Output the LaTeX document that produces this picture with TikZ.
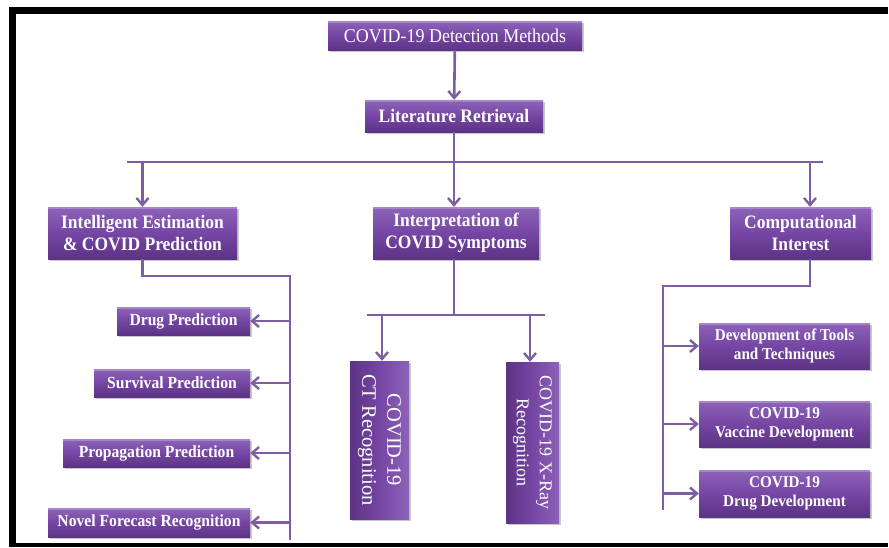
\documentclass[tikz,border=0pt]{standalone}
\usepackage{fontspec}
\setmainfont{Liberation Serif}[FakeStretch=0.92]
\newfontfamily\uprfont{Liberation Serif}
\usetikzlibrary{arrows.meta,shadows}

\definecolor{boxtop}{HTML}{8D63B8}
\definecolor{boxmid}{HTML}{7546A3}
\definecolor{boxbot}{HTML}{5C3385}
\definecolor{boxhi}{HTML}{A586CB}
\definecolor{linkcol}{HTML}{7F5DA3}

\tikzset{
  pbox/.style={rectangle, inner sep=0pt, text=white, align=center,
    top color=boxtop, bottom color=boxbot, middle color=boxmid,
    drop shadow={shadow xshift=2pt, shadow yshift=-2pt, opacity=0.3, fill=black!70},
    path picture={\fill[boxhi] (path picture bounding box.north west)
      rectangle ([yshift=-2pt]path picture bounding box.north east);}},
  vbox/.style={rectangle, inner sep=0pt, text=white, align=center,
    left color=boxbot, right color=boxtop, middle color=boxmid,
    drop shadow={shadow xshift=2pt, shadow yshift=-2pt, opacity=0.3, fill=black!70}},
  link/.style={draw=linkcol, line width=2.6pt},
  arrowlink/.style={link, -{Straight Barb[length=7pt,width=12pt,line width=2.4pt]}},
  headfont/.style={font=\fontsize{19.5}{22}\selectfont},
  boldfont/.style={font=\fontsize{19}{22}\selectfont\bfseries},
  smallbold/.style={font=\fontsize{17}{19}\selectfont\bfseries},
  rightbold/.style={font=\fontsize{16.5}{19}\selectfont\bfseries},
}

\begin{document}
\begin{tikzpicture}[x=1pt,y=-1pt]
\fill[white] (0,0) rectangle (889,547);
\useasboundingbox (0,0) rectangle (889,547);
% outer frame: bands along the top, left and bottom
\fill[black] (9,7) rectangle (887.5,14);
\fill[black] (9,7) rectangle (16,547);
\fill[black] (9,543) rectangle (887.5,547);

% top levels
\node[pbox, headfont, minimum width=254pt, minimum height=29pt] (top) at (455,35.5) {COVID-19 Detection Methods};
\node[pbox, boldfont, minimum width=178pt, minimum height=32pt] (lit) at (454,116) {Literature Retrieval};

% second level
\node[pbox, boldfont, minimum width=189pt, minimum height=52pt] (intel) at (142.5,233) {Intelligent Estimation\\\& COVID Prediction};
\node[pbox, boldfont, minimum width=166pt, minimum height=52pt] (interp) at (456,233) {Interpretation of\\COVID Symptoms};
\node[pbox, boldfont, minimum width=141pt, minimum height=52pt] (comp) at (800.5,233) {Computational\\Interest};

% prediction branch
\node[pbox, smallbold, minimum width=133pt, minimum height=28pt] (drug) at (183.5,321) {Drug Prediction};
\node[pbox, smallbold, minimum width=156pt, minimum height=28pt] (surv) at (172,383) {Survival Prediction};
\node[pbox, smallbold, minimum width=187pt, minimum height=28pt] (prop) at (156.5,453) {Propagation Prediction};
\node[pbox, smallbold, minimum width=202pt, minimum height=29pt] (novel) at (149,522.5) {Novel Forecast Recognition};

% symptom branch (vertical boxes)
\node[vbox, rotate=-90, minimum width=158pt, minimum height=59pt,
  font=\uprfont\fontsize{20.5}{25}\selectfont] (ct) at (379.5,440) {COVID-19\\CT Recognition};
\node[vbox, rotate=-90, minimum width=161pt, minimum height=53pt,
  font=\uprfont\fontsize{18}{23}\selectfont] (xray) at (532.5,442.5) {COVID-19 X-Ray\\Recognition};

% computational branch
\node[pbox, rightbold, minimum width=171pt, minimum height=46pt] (tools) at (784.5,346) {Development of Tools\\and Techniques};
\node[pbox, rightbold, minimum width=171pt, minimum height=46pt] (vacc) at (784.5,424) {COVID-19\\Vaccine Development};
\node[pbox, rightbold, minimum width=171pt, minimum height=47pt] (ddev) at (784.5,493.5) {COVID-19\\Drug Development};

% junction points
\coordinate (barL) at (127,162);
\coordinate (barR) at (823,162);
\coordinate (lt) at (290,276);
\coordinate (lb) at (290,540);
\coordinate (mL) at (367,315);
\coordinate (mR) at (545,315);
\coordinate (rt) at (663,286);
\coordinate (rb) at (663,510);
\coordinate (compout) at (810,259);

% connectors
\draw[arrowlink] (top) -- (lit);
\draw[link] (lit.south) -- (lit.south |- barL);
\draw[link] (barL) -- (barR);
\draw[arrowlink] (intel.north |- barL) -- (intel.north);
\draw[arrowlink] (lit.south |- barL) -- (lit.south |- interp.north);
\draw[arrowlink] (compout |- barL) -- (compout |- comp.north);

\draw[link] (intel.south) |- (lt) -- (lb);
\draw[arrowlink] (lt |- drug.east) -- (drug.east);
\draw[arrowlink] (lt |- surv.east) -- (surv.east);
\draw[arrowlink] (lt |- prop.east) -- (prop.east);
\draw[arrowlink] (lt |- novel.east) -- (novel.east);

\draw[link] (lit.south |- interp.south) -- (lit.south |- mL);
\draw[link] (mL) -- (mR);
\draw[arrowlink] ([xshift=2.5pt]ct.west |- mL) -- ([xshift=2.5pt]ct.west);
\draw[arrowlink] ([xshift=-2.5pt]xray.west |- mL) -- ([xshift=-2.5pt]xray.west);

\draw[link] (compout) |- (rt) -- (rb);
\draw[arrowlink] (rt |- tools.west) -- (tools.west);
\draw[arrowlink] (rt |- vacc.west) -- (vacc.west);
\draw[arrowlink] (rt |- ddev.west) -- (ddev.west);
\end{tikzpicture}
\end{document}
